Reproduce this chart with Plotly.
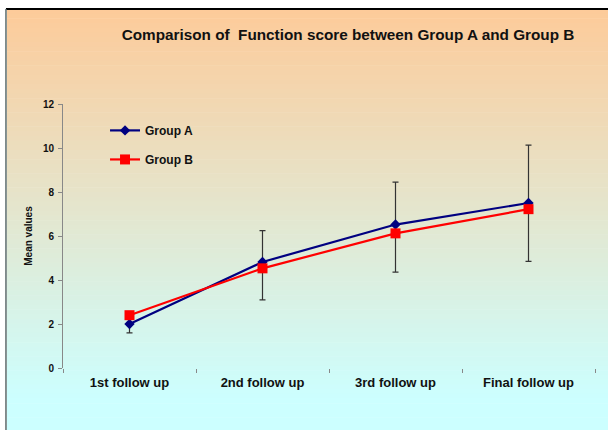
import plotly.graph_objects as go

categories = ["1st follow up", "2nd follow up", "3rd follow up", "Final follow up"]
group_a = [2.0, 4.82, 6.52, 7.5]
group_b = [2.4, 4.53, 6.12, 7.22]
err_plus_a = [0.4, 1.42, 1.93, 2.63]
err_minus_a = [0.4, 1.72, 2.16, 2.65]
y_ticks = [0, 2, 4, 6, 8, 10, 12]

FONT = "Liberation Sans, Arial, sans-serif"

fig = go.Figure()
fig.add_trace(go.Scatter(
    x=categories, y=group_a, name="Group A", mode="lines+markers",
    line=dict(color="#000080", width=2.2),
    marker=dict(symbol="diamond", size=8, color="#000080"),
    error_y=dict(type="data", symmetric=False, array=err_plus_a, arrayminus=err_minus_a,
                 color="#333333", thickness=1.2, width=3),
    legend="legend", showlegend=True,
))
fig.add_trace(go.Scatter(
    x=categories, y=group_b, name="Group B", mode="lines+markers",
    line=dict(color="#FF0000", width=2.2),
    marker=dict(symbol="square", size=10, color="#FF0000"),
    legend="legend2", showlegend=True,
))

# gradient background stripes (peach to light cyan)
top = (0xFD, 0xCB, 0x9A)
bot = (0xCC, 0xFF, 0xFF)
y0p, y1p = -0.24, 1.36
n = 90
shapes = []
for i in range(n):
    t = min(1.0, i / (n * 0.92))
    c = tuple(round(top[k] + (bot[k] - top[k]) * t) for k in range(3))
    ya = y1p - (y1p - y0p) * i / n
    yb = y1p - (y1p - y0p) * (i + 1) / n
    shapes.append(dict(type="rect", xref="paper", yref="paper", x0=-0.1053, x1=1.03,
                       y0=yb - 0.002, y1=ya, fillcolor="rgb(%d,%d,%d)" % c,
                       line=dict(width=0), layer="below"))
shapes.append(dict(type="line", xref="paper", yref="paper", x0=-0.1072, x1=1.03, y0=1.36, y1=1.36,
                   line=dict(color="#000000", width=2)))
shapes.append(dict(type="line", xref="paper", yref="paper", x0=-0.1072, x1=-0.1072, y0=-0.25, y1=1.36,
                   line=dict(color="#5a6a6a", width=1.5)))

fig.update_layout(
    width=608, height=430,
    margin=dict(l=63, r=13, t=104, b=62),
    paper_bgcolor="white", plot_bgcolor="rgba(0,0,0,0)",
    shapes=shapes,
    title=dict(text="Comparison of  Function score between Group A and Group B",
               x=348 / 608, xanchor="center", y=1 - 35 / 430, yanchor="middle",
               font=dict(family=FONT, size=15.3, color="#111111", weight="bold")),
    font=dict(family=FONT, color="#111111"),
    legend=dict(x=0.079, y=0.90, xanchor="left", yanchor="middle", bgcolor="rgba(0,0,0,0)",
                font=dict(size=12, weight="bold", color="#111111")),
    legend2=dict(x=0.079, y=0.79, xanchor="left", yanchor="middle", bgcolor="rgba(0,0,0,0)",
                 font=dict(size=12, weight="bold", color="#111111")),
    xaxis=dict(type="category", range=[-0.5, 3.5], tickson="boundaries", ticks="outside", ticklen=4,
               tickcolor="#888888", showline=False, showgrid=False, zeroline=False,
               automargin=False, ticklabelstandoff=5,
               tickfont=dict(size=13, weight="bold", color="#111111")),
    yaxis=dict(range=[0, 12], tickvals=y_ticks, ticks="outside", ticklen=4,
               tickcolor="#888888", showline=True, linecolor="#888888", linewidth=1,
               showgrid=False, zeroline=False, automargin=False, ticklabelstandoff=2,
               tickfont=dict(size=10, weight="bold", color="#111111"),
               title=dict(text="Mean values", standoff=8,
                          font=dict(size=10, weight="bold", color="#111111"))),
)

fig.write_html("out.html", config={"displayModeBar": False},
               post_script="document.body.style.margin='0';")
